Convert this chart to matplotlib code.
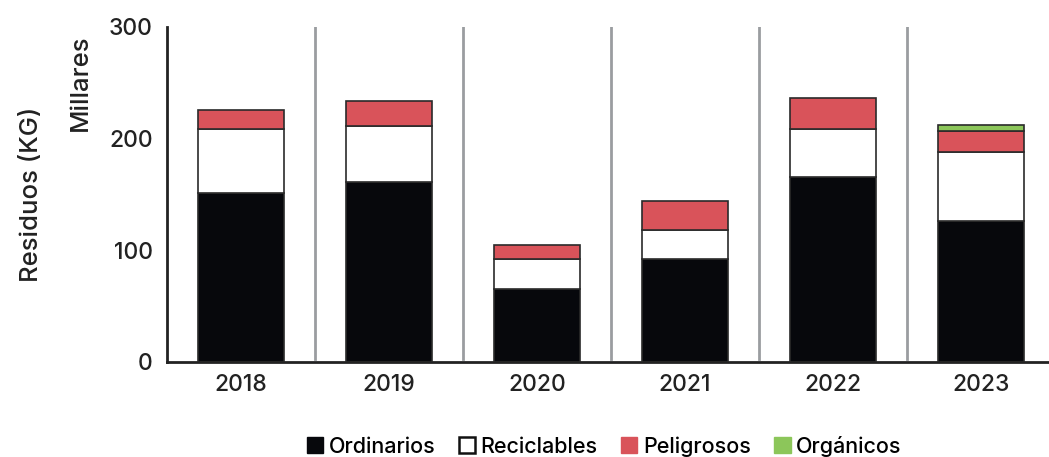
import numpy as np
import matplotlib.pyplot as plt
from matplotlib.patches import Patch

plt.rcParams["font.family"] = ["Inter", "DejaVu Sans"]

years = ["2018", "2019", "2020", "2021", "2022", "2023"]
ordinarios = [151, 161, 65, 92, 166, 126]
reciclables = [58, 50, 27, 26, 43, 62]
peligrosos = [17, 23, 13, 26, 27, 19]
organicos = [0, 0, 0, 0, 0, 5]

c_ord = "#07080c"
c_rec = "#ffffff"
c_pel = "#d9535a"
c_org = "#8cc65a"
edge = "#2a2a2a"
txt = "#222222"

fig = plt.figure(figsize=(10.49, 4.57), dpi=100)
ax = fig.add_axes([0.159, 0.208, 0.841, 0.733])

x = np.arange(len(years))
w = 0.58
b1 = np.array(ordinarios)
b2 = b1 + np.array(reciclables)
b3 = b2 + np.array(peligrosos)

ax.bar(x, ordinarios, w, color=c_ord, edgecolor=edge, linewidth=1.2, zorder=3)
ax.bar(x, reciclables, w, bottom=b1, color=c_rec, edgecolor=edge, linewidth=1.2, zorder=3)
ax.bar(x, peligrosos, w, bottom=b2, color=c_pel, edgecolor=edge, linewidth=1.2, zorder=3)
org = np.array(organicos)
mask = org > 0
ax.bar(x[mask], org[mask], w, bottom=b3[mask], color=c_org, edgecolor=edge, linewidth=1.2, zorder=3)

# separadores entre categorias
for s in x[:-1] + 0.5:
    ax.axvline(s, ymin=0.01, ymax=1.0, color="#9a9da0", linewidth=2, zorder=1)

ax.set_xlim(-0.5, 5.46)
ax.set_ylim(0, 300)
ax.set_yticks([0, 100, 200, 300])
ax.set_xticks(x)
ax.set_xticklabels(years)
ax.tick_params(axis="both", length=0, labelsize=16.5, colors=txt)
ax.tick_params(axis="y", pad=10)
ax.tick_params(axis="x", pad=9)
for lab in ax.get_xticklabels() + ax.get_yticklabels():
    lab.set_fontweight("medium")

for side in ["top", "right"]:
    ax.spines[side].set_visible(False)
for side in ["left", "bottom"]:
    ax.spines[side].set_color(txt)
    ax.spines[side].set_linewidth(2)

ax.set_ylabel("Residuos (KG)", fontsize=18.5, color=txt, fontweight="medium")
ax.yaxis.set_label_coords(-0.140, 0.5)
fig.text(0.077, 0.82, "Millares", rotation=90, fontsize=18.5, color=txt,
         ha="center", va="center", fontweight="medium")

handles = [
    Patch(facecolor=c_ord, edgecolor=c_ord, label="Ordinarios"),
    Patch(facecolor="white", edgecolor="#111111", linewidth=1.8, label="Reciclables"),
    Patch(facecolor=c_pel, edgecolor=c_pel, label="Peligrosos"),
    Patch(facecolor=c_org, edgecolor=c_org, label="Orgánicos"),
]
fig.legend(handles=handles, loc="center", bbox_to_anchor=(0.576, 0.024), ncol=4,
           frameon=False, handlelength=0.75, handleheight=0.75,
           handletextpad=0.25, columnspacing=1.1,
           prop={"size": 15.5, "weight": "medium"})

fig.savefig("out.png", dpi=100)
